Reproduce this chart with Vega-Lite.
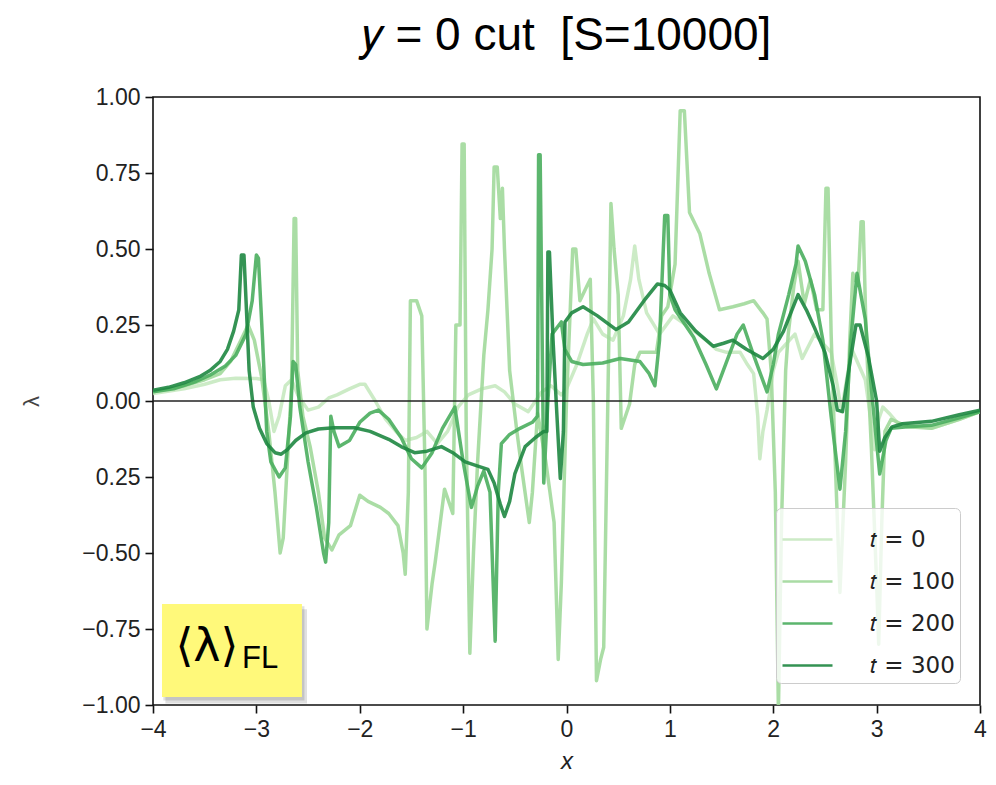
{
  "$schema": "https://vega.github.io/schema/vega-lite/v6.json",
  "width": 827,
  "height": 608,
  "autosize": {"type": "none"},
  "padding": {"left": 153, "top": 97, "right": 16, "bottom": 80},
  "background": "white",
  "config": {"view": {"stroke": "#111", "strokeWidth": 1.6}, "font": "Liberation Sans"},
  "title": {"text": "𝑦 = 0 cut \u00a0[S=10000]", "fontSize": 46, "fontWeight": "normal", "font": "Liberation Sans", "color": "#000", "anchor": "middle", "offset": 30, "dy": 40, "baseline": "alphabetic"},
  "datasets": {
    "curves": [
      {"t":"t = 0","x":-4.0,"y":0.025},{"t":"t = 0","x":-3.7,"y":0.04},{"t":"t = 0","x":-3.5,"y":0.055},{"t":"t = 0","x":-3.35,"y":0.07},{"t":"t = 0","x":-3.2,"y":0.075},{"t":"t = 0","x":-3.0,"y":0.074},{"t":"t = 0","x":-2.93,"y":0.07},{"t":"t = 0","x":-2.88,"y":0.0},{"t":"t = 0","x":-2.83,"y":-0.1},{"t":"t = 0","x":-2.78,"y":-0.05},{"t":"t = 0","x":-2.72,"y":0.05},{"t":"t = 0","x":-2.66,"y":0.07},{"t":"t = 0","x":-2.6,"y":0.02},{"t":"t = 0","x":-2.5,"y":-0.03},{"t":"t = 0","x":-2.4,"y":-0.02},{"t":"t = 0","x":-2.3,"y":0.01},{"t":"t = 0","x":-2.22,"y":0.02},{"t":"t = 0","x":-2.1,"y":0.04},{"t":"t = 0","x":-2.0,"y":0.055},{"t":"t = 0","x":-1.95,"y":0.055},{"t":"t = 0","x":-1.85,"y":0.0},{"t":"t = 0","x":-1.75,"y":-0.06},{"t":"t = 0","x":-1.65,"y":-0.1},{"t":"t = 0","x":-1.56,"y":-0.13},{"t":"t = 0","x":-1.45,"y":-0.12},{"t":"t = 0","x":-1.35,"y":-0.1},{"t":"t = 0","x":-1.25,"y":-0.14},{"t":"t = 0","x":-1.15,"y":-0.1},{"t":"t = 0","x":-1.05,"y":-0.02},{"t":"t = 0","x":-0.95,"y":0.02},{"t":"t = 0","x":-0.82,"y":0.04},{"t":"t = 0","x":-0.69,"y":0.05},{"t":"t = 0","x":-0.6,"y":0.03},{"t":"t = 0","x":-0.5,"y":-0.01},{"t":"t = 0","x":-0.37,"y":-0.035},{"t":"t = 0","x":-0.3,"y":0.0},{"t":"t = 0","x":-0.24,"y":0.03},{"t":"t = 0","x":-0.15,"y":0.05},{"t":"t = 0","x":-0.05,"y":0.02},{"t":"t = 0","x":0.0,"y":0.04},{"t":"t = 0","x":0.1,"y":0.12},{"t":"t = 0","x":0.2,"y":0.22},{"t":"t = 0","x":0.26,"y":0.27},{"t":"t = 0","x":0.35,"y":0.22},{"t":"t = 0","x":0.45,"y":0.2},{"t":"t = 0","x":0.55,"y":0.28},{"t":"t = 0","x":0.62,"y":0.4},{"t":"t = 0","x":0.66,"y":0.51},{"t":"t = 0","x":0.7,"y":0.4},{"t":"t = 0","x":0.775,"y":0.29},{"t":"t = 0","x":0.9,"y":0.22},{"t":"t = 0","x":1.03,"y":0.28},{"t":"t = 0","x":1.2,"y":0.24},{"t":"t = 0","x":1.35,"y":0.2},{"t":"t = 0","x":1.45,"y":0.17},{"t":"t = 0","x":1.55,"y":0.16},{"t":"t = 0","x":1.68,"y":0.16},{"t":"t = 0","x":1.75,"y":0.12},{"t":"t = 0","x":1.81,"y":0.09},{"t":"t = 0","x":1.85,"y":-0.05},{"t":"t = 0","x":1.87,"y":-0.19},{"t":"t = 0","x":1.9,"y":-0.1},{"t":"t = 0","x":1.94,"y":-0.03},{"t":"t = 0","x":2.0,"y":0.1},{"t":"t = 0","x":2.05,"y":0.16},{"t":"t = 0","x":2.21,"y":0.22},{"t":"t = 0","x":2.28,"y":0.14},{"t":"t = 0","x":2.4,"y":0.22},{"t":"t = 0","x":2.56,"y":0.16},{"t":"t = 0","x":2.62,"y":0.05},{"t":"t = 0","x":2.66,"y":-0.035},{"t":"t = 0","x":2.7,"y":0.05},{"t":"t = 0","x":2.76,"y":0.17},{"t":"t = 0","x":2.89,"y":0.07},{"t":"t = 0","x":2.94,"y":-0.05},{"t":"t = 0","x":2.98,"y":-0.16},{"t":"t = 0","x":3.02,"y":-0.06},{"t":"t = 0","x":3.06,"y":-0.02},{"t":"t = 0","x":3.12,"y":-0.04},{"t":"t = 0","x":3.21,"y":-0.075},{"t":"t = 0","x":3.53,"y":-0.09},{"t":"t = 0","x":3.8,"y":-0.06},{"t":"t = 0","x":4.0,"y":-0.035},

      {"t":"t = 100","x":-4.0,"y":0.03},{"t":"t = 100","x":-3.7,"y":0.05},{"t":"t = 100","x":-3.5,"y":0.07},{"t":"t = 100","x":-3.35,"y":0.09},{"t":"t = 100","x":-3.25,"y":0.13},{"t":"t = 100","x":-3.15,"y":0.2},{"t":"t = 100","x":-3.08,"y":0.25},{"t":"t = 100","x":-3.02,"y":0.2},{"t":"t = 100","x":-2.95,"y":0.08},{"t":"t = 100","x":-2.88,"y":-0.1},{"t":"t = 100","x":-2.82,"y":-0.3},{"t":"t = 100","x":-2.77,"y":-0.5},{"t":"t = 100","x":-2.74,"y":-0.45},{"t":"t = 100","x":-2.7,"y":-0.2},{"t":"t = 100","x":-2.66,"y":0.05},{"t":"t = 100","x":-2.635,"y":0.6},{"t":"t = 100","x":-2.62,"y":0.6},{"t":"t = 100","x":-2.6,"y":0.1},{"t":"t = 100","x":-2.55,"y":-0.05},{"t":"t = 100","x":-2.48,"y":-0.15},{"t":"t = 100","x":-2.4,"y":-0.3},{"t":"t = 100","x":-2.34,"y":-0.45},{"t":"t = 100","x":-2.27,"y":-0.49},{"t":"t = 100","x":-2.2,"y":-0.44},{"t":"t = 100","x":-2.09,"y":-0.41},{"t":"t = 100","x":-2.0,"y":-0.31},{"t":"t = 100","x":-1.92,"y":-0.33},{"t":"t = 100","x":-1.8,"y":-0.35},{"t":"t = 100","x":-1.72,"y":-0.37},{"t":"t = 100","x":-1.63,"y":-0.41},{"t":"t = 100","x":-1.58,"y":-0.5},{"t":"t = 100","x":-1.56,"y":-0.57},{"t":"t = 100","x":-1.53,"y":-0.3},{"t":"t = 100","x":-1.51,"y":0.33},{"t":"t = 100","x":-1.45,"y":0.33},{"t":"t = 100","x":-1.4,"y":0.28},{"t":"t = 100","x":-1.37,"y":-0.2},{"t":"t = 100","x":-1.35,"y":-0.75},{"t":"t = 100","x":-1.3,"y":-0.6},{"t":"t = 100","x":-1.27,"y":-0.53},{"t":"t = 100","x":-1.18,"y":-0.29},{"t":"t = 100","x":-1.1,"y":-0.37},{"t":"t = 100","x":-1.07,"y":0.25},{"t":"t = 100","x":-1.03,"y":0.25},{"t":"t = 100","x":-1.01,"y":0.845},{"t":"t = 100","x":-0.99,"y":0.845},{"t":"t = 100","x":-0.97,"y":-0.1},{"t":"t = 100","x":-0.935,"y":-0.83},{"t":"t = 100","x":-0.9,"y":-0.5},{"t":"t = 100","x":-0.86,"y":-0.2},{"t":"t = 100","x":-0.8,"y":0.15},{"t":"t = 100","x":-0.76,"y":0.3},{"t":"t = 100","x":-0.72,"y":0.5},{"t":"t = 100","x":-0.7,"y":0.77},{"t":"t = 100","x":-0.67,"y":0.77},{"t":"t = 100","x":-0.64,"y":0.6},{"t":"t = 100","x":-0.62,"y":0.7},{"t":"t = 100","x":-0.6,"y":0.5},{"t":"t = 100","x":-0.55,"y":0.1},{"t":"t = 100","x":-0.48,"y":-0.1},{"t":"t = 100","x":-0.43,"y":-0.23},{"t":"t = 100","x":-0.36,"y":-0.4},{"t":"t = 100","x":-0.33,"y":-0.3},{"t":"t = 100","x":-0.28,"y":-0.04},{"t":"t = 100","x":-0.2,"y":-0.2},{"t":"t = 100","x":-0.12,"y":-0.4},{"t":"t = 100","x":-0.08,"y":-0.85},{"t":"t = 100","x":-0.05,"y":-0.6},{"t":"t = 100","x":0.0,"y":0.0},{"t":"t = 100","x":0.06,"y":0.5},{"t":"t = 100","x":0.09,"y":0.5},{"t":"t = 100","x":0.13,"y":0.33},{"t":"t = 100","x":0.2,"y":0.38},{"t":"t = 100","x":0.23,"y":0.4},{"t":"t = 100","x":0.26,"y":0.0},{"t":"t = 100","x":0.29,"y":-0.92},{"t":"t = 100","x":0.33,"y":-0.85},{"t":"t = 100","x":0.36,"y":-0.81},{"t":"t = 100","x":0.4,"y":0.0},{"t":"t = 100","x":0.43,"y":0.65},{"t":"t = 100","x":0.46,"y":0.5},{"t":"t = 100","x":0.5,"y":0.35},{"t":"t = 100","x":0.53,"y":-0.09},{"t":"t = 100","x":0.57,"y":-0.05},{"t":"t = 100","x":0.61,"y":-0.01},{"t":"t = 100","x":0.66,"y":0.12},{"t":"t = 100","x":0.71,"y":0.16},{"t":"t = 100","x":0.8,"y":0.16},{"t":"t = 100","x":0.87,"y":0.16},{"t":"t = 100","x":0.92,"y":0.28},{"t":"t = 100","x":0.98,"y":0.31},{"t":"t = 100","x":1.05,"y":0.45},{"t":"t = 100","x":1.1,"y":0.955},{"t":"t = 100","x":1.14,"y":0.955},{"t":"t = 100","x":1.19,"y":0.62},{"t":"t = 100","x":1.29,"y":0.55},{"t":"t = 100","x":1.38,"y":0.42},{"t":"t = 100","x":1.48,"y":0.3},{"t":"t = 100","x":1.61,"y":0.31},{"t":"t = 100","x":1.72,"y":0.32},{"t":"t = 100","x":1.81,"y":0.33},{"t":"t = 100","x":1.9,"y":0.29},{"t":"t = 100","x":1.94,"y":0.27},{"t":"t = 100","x":1.98,"y":0.1},{"t":"t = 100","x":2.02,"y":-0.3},{"t":"t = 100","x":2.05,"y":-1.02},{"t":"t = 100","x":2.08,"y":-0.4},{"t":"t = 100","x":2.12,"y":0.1},{"t":"t = 100","x":2.145,"y":0.22},{"t":"t = 100","x":2.2,"y":0.38},{"t":"t = 100","x":2.24,"y":0.46},{"t":"t = 100","x":2.3,"y":0.32},{"t":"t = 100","x":2.36,"y":0.4},{"t":"t = 100","x":2.42,"y":0.3},{"t":"t = 100","x":2.48,"y":0.3},{"t":"t = 100","x":2.51,"y":0.7},{"t":"t = 100","x":2.53,"y":0.7},{"t":"t = 100","x":2.56,"y":0.22},{"t":"t = 100","x":2.6,"y":-0.2},{"t":"t = 100","x":2.645,"y":-0.63},{"t":"t = 100","x":2.7,"y":-0.2},{"t":"t = 100","x":2.74,"y":0.2},{"t":"t = 100","x":2.77,"y":0.42},{"t":"t = 100","x":2.82,"y":0.38},{"t":"t = 100","x":2.85,"y":0.59},{"t":"t = 100","x":2.87,"y":0.59},{"t":"t = 100","x":2.9,"y":0.2},{"t":"t = 100","x":2.95,"y":-0.16},{"t":"t = 100","x":3.0,"y":-0.6},{"t":"t = 100","x":3.02,"y":-0.8},{"t":"t = 100","x":3.05,"y":-0.4},{"t":"t = 100","x":3.08,"y":-0.1},{"t":"t = 100","x":3.14,"y":-0.06},{"t":"t = 100","x":3.3,"y":-0.085},{"t":"t = 100","x":3.53,"y":-0.09},{"t":"t = 100","x":3.8,"y":-0.06},{"t":"t = 100","x":4.0,"y":-0.035},

      {"t":"t = 200","x":-4.0,"y":0.03},{"t":"t = 200","x":-3.8,"y":0.04},{"t":"t = 200","x":-3.6,"y":0.062},{"t":"t = 200","x":-3.45,"y":0.085},{"t":"t = 200","x":-3.3,"y":0.115},{"t":"t = 200","x":-3.2,"y":0.15},{"t":"t = 200","x":-3.1,"y":0.22},{"t":"t = 200","x":-3.04,"y":0.33},{"t":"t = 200","x":-3.0,"y":0.48},{"t":"t = 200","x":-2.98,"y":0.47},{"t":"t = 200","x":-2.94,"y":0.2},{"t":"t = 200","x":-2.9,"y":-0.1},{"t":"t = 200","x":-2.86,"y":-0.2},{"t":"t = 200","x":-2.78,"y":-0.25},{"t":"t = 200","x":-2.72,"y":-0.22},{"t":"t = 200","x":-2.67,"y":-0.05},{"t":"t = 200","x":-2.645,"y":0.13},{"t":"t = 200","x":-2.62,"y":0.12},{"t":"t = 200","x":-2.58,"y":-0.02},{"t":"t = 200","x":-2.5,"y":-0.2},{"t":"t = 200","x":-2.42,"y":-0.35},{"t":"t = 200","x":-2.35,"y":-0.5},{"t":"t = 200","x":-2.33,"y":-0.53},{"t":"t = 200","x":-2.3,"y":-0.4},{"t":"t = 200","x":-2.28,"y":-0.05},{"t":"t = 200","x":-2.25,"y":-0.1},{"t":"t = 200","x":-2.2,"y":-0.15},{"t":"t = 200","x":-2.1,"y":-0.13},{"t":"t = 200","x":-2.0,"y":-0.07},{"t":"t = 200","x":-1.9,"y":-0.04},{"t":"t = 200","x":-1.82,"y":-0.03},{"t":"t = 200","x":-1.72,"y":-0.06},{"t":"t = 200","x":-1.6,"y":-0.12},{"t":"t = 200","x":-1.5,"y":-0.19},{"t":"t = 200","x":-1.4,"y":-0.22},{"t":"t = 200","x":-1.3,"y":-0.17},{"t":"t = 200","x":-1.2,"y":-0.09},{"t":"t = 200","x":-1.08,"y":-0.02},{"t":"t = 200","x":-1.0,"y":-0.2},{"t":"t = 200","x":-0.92,"y":-0.35},{"t":"t = 200","x":-0.86,"y":-0.28},{"t":"t = 200","x":-0.8,"y":-0.23},{"t":"t = 200","x":-0.74,"y":-0.3},{"t":"t = 200","x":-0.69,"y":-0.79},{"t":"t = 200","x":-0.66,"y":-0.3},{"t":"t = 200","x":-0.63,"y":-0.14},{"t":"t = 200","x":-0.55,"y":-0.11},{"t":"t = 200","x":-0.45,"y":-0.09},{"t":"t = 200","x":-0.33,"y":-0.07},{"t":"t = 200","x":-0.28,"y":-0.05},{"t":"t = 200","x":-0.27,"y":0.81},{"t":"t = 200","x":-0.255,"y":0.81},{"t":"t = 200","x":-0.22,"y":-0.27},{"t":"t = 200","x":-0.18,"y":0.0},{"t":"t = 200","x":-0.14,"y":0.22},{"t":"t = 200","x":-0.05,"y":0.26},{"t":"t = 200","x":-0.016,"y":0.17},{"t":"t = 200","x":0.05,"y":0.13},{"t":"t = 200","x":0.16,"y":0.12},{"t":"t = 200","x":0.35,"y":0.125},{"t":"t = 200","x":0.52,"y":0.14},{"t":"t = 200","x":0.71,"y":0.13},{"t":"t = 200","x":0.8,"y":0.09},{"t":"t = 200","x":0.855,"y":0.05},{"t":"t = 200","x":0.9,"y":0.2},{"t":"t = 200","x":0.95,"y":0.61},{"t":"t = 200","x":0.98,"y":0.61},{"t":"t = 200","x":1.0,"y":0.35},{"t":"t = 200","x":1.05,"y":0.3},{"t":"t = 200","x":1.23,"y":0.21},{"t":"t = 200","x":1.35,"y":0.12},{"t":"t = 200","x":1.45,"y":0.04},{"t":"t = 200","x":1.55,"y":0.13},{"t":"t = 200","x":1.65,"y":0.22},{"t":"t = 200","x":1.71,"y":0.25},{"t":"t = 200","x":1.8,"y":0.16},{"t":"t = 200","x":1.94,"y":0.03},{"t":"t = 200","x":2.0,"y":0.12},{"t":"t = 200","x":2.05,"y":0.22},{"t":"t = 200","x":2.15,"y":0.35},{"t":"t = 200","x":2.22,"y":0.45},{"t":"t = 200","x":2.24,"y":0.51},{"t":"t = 200","x":2.31,"y":0.46},{"t":"t = 200","x":2.4,"y":0.35},{"t":"t = 200","x":2.48,"y":0.2},{"t":"t = 200","x":2.56,"y":-0.05},{"t":"t = 200","x":2.645,"y":-0.29},{"t":"t = 200","x":2.7,"y":-0.1},{"t":"t = 200","x":2.75,"y":0.2},{"t":"t = 200","x":2.81,"y":0.42},{"t":"t = 200","x":2.89,"y":0.27},{"t":"t = 200","x":2.96,"y":0.0},{"t":"t = 200","x":3.03,"y":-0.24},{"t":"t = 200","x":3.09,"y":-0.13},{"t":"t = 200","x":3.14,"y":-0.09},{"t":"t = 200","x":3.3,"y":-0.085},{"t":"t = 200","x":3.53,"y":-0.08},{"t":"t = 200","x":3.8,"y":-0.055},{"t":"t = 200","x":4.0,"y":-0.035},

      {"t":"t = 300","x":-4.0,"y":0.035},{"t":"t = 300","x":-3.85,"y":0.045},{"t":"t = 300","x":-3.7,"y":0.06},{"t":"t = 300","x":-3.55,"y":0.08},{"t":"t = 300","x":-3.45,"y":0.1},{"t":"t = 300","x":-3.35,"y":0.13},{"t":"t = 300","x":-3.28,"y":0.17},{"t":"t = 300","x":-3.22,"y":0.23},{"t":"t = 300","x":-3.17,"y":0.3},{"t":"t = 300","x":-3.145,"y":0.48},{"t":"t = 300","x":-3.12,"y":0.48},{"t":"t = 300","x":-3.1,"y":0.33},{"t":"t = 300","x":-3.07,"y":0.1},{"t":"t = 300","x":-3.03,"y":-0.02},{"t":"t = 300","x":-2.97,"y":-0.09},{"t":"t = 300","x":-2.9,"y":-0.14},{"t":"t = 300","x":-2.82,"y":-0.17},{"t":"t = 300","x":-2.76,"y":-0.175},{"t":"t = 300","x":-2.7,"y":-0.16},{"t":"t = 300","x":-2.62,"y":-0.13},{"t":"t = 300","x":-2.52,"y":-0.105},{"t":"t = 300","x":-2.4,"y":-0.092},{"t":"t = 300","x":-2.25,"y":-0.088},{"t":"t = 300","x":-2.05,"y":-0.088},{"t":"t = 300","x":-1.9,"y":-0.1},{"t":"t = 300","x":-1.72,"y":-0.126},{"t":"t = 300","x":-1.6,"y":-0.15},{"t":"t = 300","x":-1.47,"y":-0.17},{"t":"t = 300","x":-1.35,"y":-0.165},{"t":"t = 300","x":-1.21,"y":-0.15},{"t":"t = 300","x":-1.1,"y":-0.17},{"t":"t = 300","x":-0.98,"y":-0.2},{"t":"t = 300","x":-0.85,"y":-0.215},{"t":"t = 300","x":-0.76,"y":-0.225},{"t":"t = 300","x":-0.7,"y":-0.27},{"t":"t = 300","x":-0.64,"y":-0.34},{"t":"t = 300","x":-0.6,"y":-0.38},{"t":"t = 300","x":-0.55,"y":-0.33},{"t":"t = 300","x":-0.5,"y":-0.24},{"t":"t = 300","x":-0.4,"y":-0.15},{"t":"t = 300","x":-0.3,"y":-0.12},{"t":"t = 300","x":-0.22,"y":-0.1},{"t":"t = 300","x":-0.19,"y":-0.1},{"t":"t = 300","x":-0.18,"y":0.49},{"t":"t = 300","x":-0.165,"y":0.49},{"t":"t = 300","x":-0.13,"y":0.2},{"t":"t = 300","x":-0.1,"y":0.0},{"t":"t = 300","x":-0.06,"y":-0.255},{"t":"t = 300","x":-0.03,"y":-0.1},{"t":"t = 300","x":-0.015,"y":0.26},{"t":"t = 300","x":0.05,"y":0.29},{"t":"t = 300","x":0.16,"y":0.31},{"t":"t = 300","x":0.3,"y":0.28},{"t":"t = 300","x":0.48,"y":0.235},{"t":"t = 300","x":0.6,"y":0.26},{"t":"t = 300","x":0.75,"y":0.33},{"t":"t = 300","x":0.88,"y":0.385},{"t":"t = 300","x":0.95,"y":0.38},{"t":"t = 300","x":1.0,"y":0.365},{"t":"t = 300","x":1.1,"y":0.29},{"t":"t = 300","x":1.25,"y":0.23},{"t":"t = 300","x":1.42,"y":0.18},{"t":"t = 300","x":1.52,"y":0.19},{"t":"t = 300","x":1.61,"y":0.2},{"t":"t = 300","x":1.74,"y":0.17},{"t":"t = 300","x":1.9,"y":0.14},{"t":"t = 300","x":2.0,"y":0.17},{"t":"t = 300","x":2.1,"y":0.23},{"t":"t = 300","x":2.24,"y":0.35},{"t":"t = 300","x":2.32,"y":0.3},{"t":"t = 300","x":2.4,"y":0.24},{"t":"t = 300","x":2.5,"y":0.16},{"t":"t = 300","x":2.58,"y":0.05},{"t":"t = 300","x":2.62,"y":-0.03},{"t":"t = 300","x":2.67,"y":-0.035},{"t":"t = 300","x":2.72,"y":0.08},{"t":"t = 300","x":2.8,"y":0.25},{"t":"t = 300","x":2.84,"y":0.25},{"t":"t = 300","x":2.92,"y":0.145},{"t":"t = 300","x":3.0,"y":0.0},{"t":"t = 300","x":3.03,"y":-0.165},{"t":"t = 300","x":3.08,"y":-0.12},{"t":"t = 300","x":3.15,"y":-0.085},{"t":"t = 300","x":3.25,"y":-0.075},{"t":"t = 300","x":3.53,"y":-0.067},{"t":"t = 300","x":3.8,"y":-0.045},{"t":"t = 300","x":4.0,"y":-0.03}
    ]
  },
  "layer": [
    {
      "data": {"name": "curves"},
      "mark": {"type": "line", "strokeWidth": 3.5, "opacity": 0.9, "clip": true, "strokeJoin": "round"},
      "encoding": {
        "x": {"field": "x", "type": "quantitative", "scale": {"domain": [-4, 4], "nice": false, "zero": false},
          "axis": {"values": [-4, -3, -2, -1, 0, 1, 2, 3, 4], "format": "d", "labelFlush": false, "title": "x", "titleFontStyle": "italic", "titleFontWeight": "normal", "titleFontSize": 24, "titleColor": "#222", "titlePadding": 8, "labelFontSize": 23, "labelColor": "#222", "labelPadding": 5, "tickColor": "#111", "tickSize": 8, "tickWidth": 1.6, "domain": false, "grid": false}},
        "y": {"field": "y", "type": "quantitative", "scale": {"domain": [-1, 1], "nice": false, "zero": false},
          "axis": {"values": [-1, -0.75, -0.5, -0.25, 0, 0.25, 0.5, 0.75, 1], "format": ".2f", "labelFlush": false, "labelExpr": "datum.value > -0.3 && datum.value < -0.2 ? '0.25' : datum.label", "title": "λ", "titleFontWeight": "normal", "titleFontSize": 22, "titleColor": "#444", "titleX": -110, "titleY": 304, "labelFontSize": 23, "labelColor": "#222", "labelPadding": 5, "tickColor": "#111", "tickSize": 8, "tickWidth": 1.6, "domain": false, "grid": false}},
        "color": {"field": "t", "type": "nominal",
          "scale": {"domain": ["t = 0", "t = 100", "t = 200", "t = 300"], "range": ["#c7e9c0", "#a1d99b", "#4aae5e", "#1e8741"]},
          "legend": {"orient": "none", "legendX": 623, "legendY": 411, "title": null, "symbolType": "stroke", "symbolSize": 2500, "symbolStrokeWidth": 2.5, "labelFontSize": 23, "labelFont": "DejaVu Sans", "labelColor": "#222", "labelOffset": 36, "strokeColor": "#cccccc", "fillColor": "rgba(255,255,255,0.8)", "cornerRadius": 5, "padding": 5, "rowPadding": 3, "labelExpr": "replace(datum.label, 't', '𝑡')"}}
      }
    },
    {
      "data": {"values": [{}]},
      "mark": {"type": "rule", "color": "#222", "strokeWidth": 1.5},
      "encoding": {"y": {"datum": 0}}
    },
    {
      "data": {"values": [{}]},
      "mark": {"type": "rect", "color": "#000", "opacity": 0.12},
      "encoding": {"x": {"datum": -3.88}, "x2": {"datum": -2.51}, "y": {"datum": -0.685}, "y2": {"datum": -0.995}}
    },
    {
      "data": {"values": [{}]},
      "mark": {"type": "rect", "color": "#000", "opacity": 0.12},
      "encoding": {"x": {"datum": -3.9}, "x2": {"datum": -2.535}, "y": {"datum": -0.675}, "y2": {"datum": -0.985}}
    },
    {
      "data": {"values": [{}]},
      "mark": {"type": "rect", "color": "#fff97a", "opacity": 1},
      "encoding": {"x": {"datum": -3.913}, "x2": {"datum": -2.559}, "y": {"datum": -0.668}, "y2": {"datum": -0.974}}
    },
    {
      "data": {"values": [{}]},
      "mark": {"type": "text", "text": "⟨λ⟩", "font": "DejaVu Sans", "fontSize": 46, "align": "center", "baseline": "middle", "color": "#000"},
      "encoding": {"x": {"datum": -3.478}, "y": {"datum": -0.809}}
    },
    {
      "data": {"values": [{}]},
      "mark": {"type": "text", "text": "FL", "font": "Liberation Sans", "fontSize": 31, "align": "left", "baseline": "alphabetic", "color": "#000"},
      "encoding": {"x": {"datum": -3.139}, "y": {"datum": -0.878}}
    }
  ]
}
